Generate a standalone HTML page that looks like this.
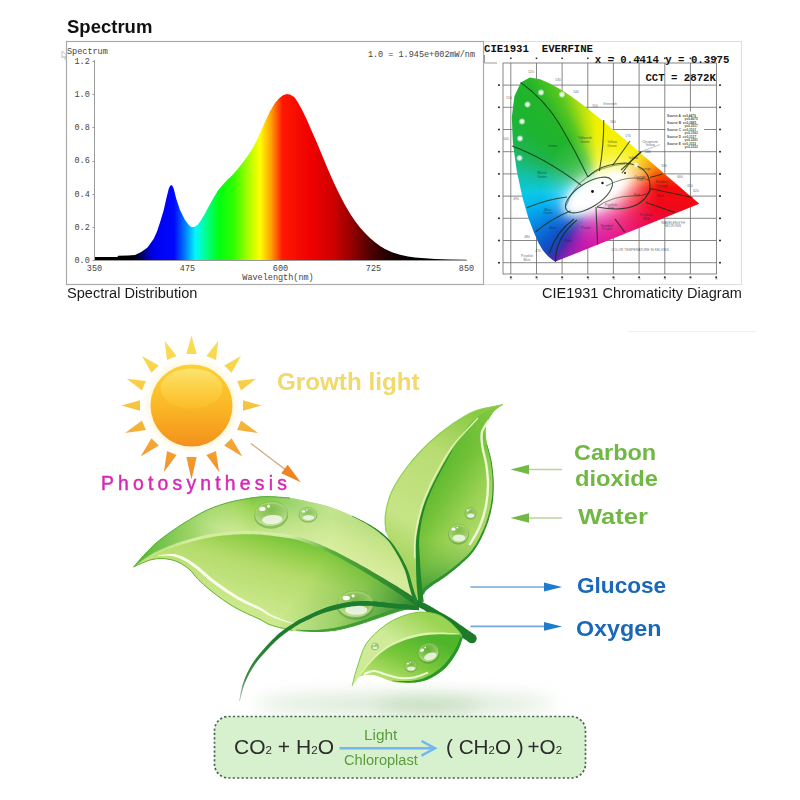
<!DOCTYPE html>
<html><head><meta charset="utf-8"><title>Spectrum</title>
<style>
html,body{margin:0;padding:0;background:#fff;}
body{width:800px;height:800px;position:relative;overflow:hidden;font-family:"Liberation Sans",sans-serif;filter:blur(0.55px);}
svg{position:absolute;left:0;top:0;}
.t{position:absolute;white-space:nowrap;line-height:1;}
text{white-space:pre;}

#cie{position:absolute;left:500px;top:70px;width:210px;height:200px;
clip-path:polygon(55.5px 191.6px,55.3px 191.6px,54.8px 191.6px,53.0px 190.3px,51.0px 188.8px,47.8px 186.1px,42.6px 179.9px,38.9px 173.4px,34.2px 163.2px,28.4px 148.1px,22.4px 127.2px,16.8px 101.1px,12.9px 73.2px,11.8px 47.3px,14.4px 26.2px,20.8px 12.4px,29.9px 7.6px,40.1px 9.3px,50.5px 13.8px,60.3px 19.2px,69.7px 25.2px,79.0px 31.9px,88.2px 39.0px,97.4px 46.4px,106.5px 54.1px,115.7px 61.8px,124.8px 69.6px,133.7px 77.2px,142.3px 84.7px,150.6px 91.8px,158.4px 98.5px,165.5px 104.7px,171.7px 110.0px,181.6px 118.6px,188.2px 124.3px,195.3px 130.3px,199.3px 133.8px);
background:
radial-gradient(circle 95px at 100px 120px, rgba(255,255,255,.4) 0, rgba(255,255,255,.16) 35%, rgba(255,255,255,0) 62%),
conic-gradient(from 0deg at 100px 120px,
#f2f000 0deg,#f6f000 12deg,#f8ee00 40deg,#fad400 52deg,#f89400 66deg,#f84000 78deg,#f40c0c 88deg,#f0081a 104deg,#ee0840 120deg,#ea0c70 146deg,#e40e8c 170deg,#d614a4 186deg,#c018ac 198deg,#8c20b0 207deg,#5028ac 213deg,#2040b8 218deg,#0c58cc 227deg,#0880e0 240deg,#04b4f0 256deg,#0cc8e4 268deg,#14c0a0 282deg,#1eb454 296deg,#1eb432 310deg,#22b42a 326deg,#58c620 337deg,#b4e010 347deg,#eef000 356deg,#f2f000 360deg);
}
</style></head>
<body>
<svg width="800" height="800" viewBox="0 0 800 800">
<defs>
<linearGradient id="spec" gradientUnits="userSpaceOnUse" x1="94" y1="0" x2="467" y2="0">
<stop offset="0" stop-color="#000"/>
<stop offset="0.10" stop-color="#000"/>
<stop offset="0.126" stop-color="#000050"/>
<stop offset="0.143" stop-color="#0000b0"/>
<stop offset="0.162" stop-color="#0000f0"/>
<stop offset="0.215" stop-color="#0008ff"/>
<stop offset="0.245" stop-color="#0080ff"/>
<stop offset="0.272" stop-color="#00f8ff"/>
<stop offset="0.30" stop-color="#00ff90"/>
<stop offset="0.335" stop-color="#00ff10"/>
<stop offset="0.375" stop-color="#30ff00"/>
<stop offset="0.41" stop-color="#a0ff00"/>
<stop offset="0.445" stop-color="#ffff00"/>
<stop offset="0.475" stop-color="#ffa000"/>
<stop offset="0.505" stop-color="#ff1800"/>
<stop offset="0.58" stop-color="#f00000"/>
<stop offset="0.64" stop-color="#d00000"/>
<stop offset="0.69" stop-color="#960000"/>
<stop offset="0.74" stop-color="#500000"/>
<stop offset="0.80" stop-color="#180000"/>
<stop offset="0.85" stop-color="#000"/>
<stop offset="1" stop-color="#000"/>
</linearGradient>
</defs>
<rect x="483.5" y="41.5" width="258" height="243" fill="#fff" stroke="#dedede" stroke-width="1"/>
<rect x="66.5" y="41.5" width="417" height="243" fill="#fff" stroke="#aaaaaa" stroke-width="1.2"/>
<path d="M94.5 260.5 L94.5 257 L117.5 257 L118 255.8 L128 255.4 L135 255 L141.25 251.9 L147.5 247.5 L153.75 238.75 L157 231.5 L160 222.5 L163.75 210 L166.25 198.75 L168.75 188.75 L170 186 L171.25 185 L172.5 186 L173.75 188.75 L176.25 198.75 L180 210 L185 220 L188.5 224.6 L191.25 226.9 L194 227 L197.5 225 L200.5 221 L204.4 214.4 L209 206 L213.75 197.5 L218 190.5 L223 184.4 L227.5 179.5 L232.5 175 L237 169.8 L241.9 163.75 L246.5 157.5 L251.25 150.6 L256 142 L260.6 131.9 L265 122 L270 111.25 L275 103 L279.4 98.1 L283 95.3 L286.9 94 L290.5 94.8 L294.4 97.2 L298 102.5 L301.9 109.4 L306.5 119 L311.25 130 L317 143 L322.5 156.25 L328 169.5 L333.75 182.5 L339.5 194.5 L345 205 L350 213.5 L355 221 L360 227.5 L365 233 L370 238 L375 242.3 L380 246 L385 249 L392 252.3 L400 254.8 L408 256.4 L415 257.4 L425 258.3 L435 259 L450 259.5 L466.5 259.8 L466.5 260.5Z" fill="url(#spec)"/>
<path d="M94.5 60 V260.5 H467" fill="none" stroke="#9a9a9a" stroke-width="1"/>
<path d="M92.5 61.5 H94.5" stroke="#999" stroke-width="1"/>
<path d="M92.5 94.5 H94.5" stroke="#999" stroke-width="1"/>
<path d="M92.5 127.5 H94.5" stroke="#999" stroke-width="1"/>
<path d="M92.5 161.5 H94.5" stroke="#999" stroke-width="1"/>
<path d="M92.5 194.5 H94.5" stroke="#999" stroke-width="1"/>
<path d="M92.5 227.5 H94.5" stroke="#999" stroke-width="1"/>
<path d="M92.5 260.5 H94.5" stroke="#999" stroke-width="1"/>
<g font-family="'Liberation Mono',monospace" font-size="8.5" fill="#444">
<text x="74.5" y="63.8">1.2</text>
<text x="74.5" y="97.0">1.0</text>
<text x="74.5" y="130.2">0.8</text>
<text x="74.5" y="163.4">0.6</text>
<text x="74.5" y="196.6">0.4</text>
<text x="74.5" y="229.8">0.2</text>
<text x="74.5" y="263.0">0.0</text>
<text x="94.5" y="270.5" text-anchor="middle">350</text>
<text x="187.5" y="270.5" text-anchor="middle">475</text>
<text x="280.5" y="270.5" text-anchor="middle">600</text>
<text x="373.5" y="270.5" text-anchor="middle">725</text>
<text x="466.5" y="270.5" text-anchor="middle">850</text>
<text x="67" y="53.5">Spectrum</text>
<text x="475" y="56.5" text-anchor="end">1.0 = 1.945e+002mW/nm</text>
<text x="278" y="279.5" text-anchor="middle">Wavelength(nm)</text>
</g>
<path d="M62 51 L62 58 L64 56.5 L65.5 60 L66.5 59.5 L65 56 L67 55.5 Z" fill="#fff" stroke="#aaa" stroke-width="0.7"/>
</svg>
<div class="t" style="left:66.98px;top:17.96px;font-size:18px;font-family:'Liberation Sans',sans-serif;color:#111;transform-origin:0 0;transform:scaleX(1.0281);font-weight:bold;">Spectrum</div>
<div class="t" style="left:66.84px;top:285.75px;font-size:14px;font-family:'Liberation Sans',sans-serif;color:#1a1a1a;transform-origin:0 0;transform:scaleX(1.0408);">Spectral Distribution</div>
<div class="t" style="left:541.68px;top:285.75px;font-size:14px;font-family:'Liberation Sans',sans-serif;color:#1a1a1a;transform-origin:0 0;transform:scaleX(1.0353);">CIE1931 Chromaticity Diagram</div>
<svg width="800" height="800" viewBox="0 0 800 800">
<g stroke="#707070" stroke-width="0.85" fill="none">
<rect x="503" y="63" width="213.4" height="211"/>
<path d="M510.8 63V274"/>
<path d="M536.5 63V274"/>
<path d="M562.1 63V274"/>
<path d="M587.8 63V274"/>
<path d="M613.4 63V274"/>
<path d="M639.1 63V274"/>
<path d="M664.8 63V274"/>
<path d="M690.4 63V274"/>
<path d="M503 262.7H716.4"/>
<path d="M503 240.5H716.4"/>
<path d="M503 218.3H716.4"/>
<path d="M503 196.1H716.4"/>
<path d="M503 173.9H716.4"/>
<path d="M503 151.7H716.4"/>
<path d="M503 129.5H716.4"/>
<path d="M503 107.3H716.4"/>
<path d="M503 85.1H716.4"/>
</g>
<g fill="#333">
<rect x="498" y="261.9" width="2" height="1.6"/>
<rect x="719" y="261.9" width="2" height="1.6"/>
<rect x="498" y="239.7" width="2" height="1.6"/>
<rect x="719" y="239.7" width="2" height="1.6"/>
<rect x="498" y="217.5" width="2" height="1.6"/>
<rect x="719" y="217.5" width="2" height="1.6"/>
<rect x="498" y="195.3" width="2" height="1.6"/>
<rect x="719" y="195.3" width="2" height="1.6"/>
<rect x="498" y="173.1" width="2" height="1.6"/>
<rect x="719" y="173.1" width="2" height="1.6"/>
<rect x="498" y="150.9" width="2" height="1.6"/>
<rect x="719" y="150.9" width="2" height="1.6"/>
<rect x="498" y="128.7" width="2" height="1.6"/>
<rect x="719" y="128.7" width="2" height="1.6"/>
<rect x="498" y="106.5" width="2" height="1.6"/>
<rect x="719" y="106.5" width="2" height="1.6"/>
<rect x="498" y="84.3" width="2" height="1.6"/>
<rect x="719" y="84.3" width="2" height="1.6"/>
<rect x="509.9" y="276.4" width="1.8" height="1.8"/>
<rect x="510.0" y="57.5" width="1.6" height="1.6"/>
<rect x="535.6" y="276.4" width="1.8" height="1.8"/>
<rect x="535.7" y="57.5" width="1.6" height="1.6"/>
<rect x="561.2" y="276.4" width="1.8" height="1.8"/>
<rect x="561.3" y="57.5" width="1.6" height="1.6"/>
<rect x="586.9" y="276.4" width="1.8" height="1.8"/>
<rect x="587.0" y="57.5" width="1.6" height="1.6"/>
<rect x="612.5" y="276.4" width="1.8" height="1.8"/>
<rect x="612.6" y="57.5" width="1.6" height="1.6"/>
<rect x="638.2" y="276.4" width="1.8" height="1.8"/>
<rect x="638.3" y="57.5" width="1.6" height="1.6"/>
<rect x="663.9" y="276.4" width="1.8" height="1.8"/>
<rect x="664.0" y="57.5" width="1.6" height="1.6"/>
<rect x="689.5" y="276.4" width="1.8" height="1.8"/>
<rect x="689.6" y="57.5" width="1.6" height="1.6"/>
<rect x="715.2" y="276.4" width="1.8" height="1.8"/>
<rect x="715.3" y="57.5" width="1.6" height="1.6"/>
</g>
<path d="M484.5 55V63H497" stroke="#999" stroke-width="1" fill="none"/>
</svg>
<div id="cie"></div>
<svg width="800" height="800" viewBox="0 0 800 800">
<defs><radialGradient id="dot"><stop offset="0" stop-color="#fff"/><stop offset="0.45" stop-color="#fff" stop-opacity=".85"/><stop offset="1" stop-color="#fff" stop-opacity="0"/></radialGradient><filter id="bl6" x="-50%" y="-50%" width="200%" height="200%"><feGaussianBlur stdDeviation="5"/></filter><filter id="bl10" x="-50%" y="-50%" width="200%" height="200%"><feGaussianBlur stdDeviation="9"/></filter><clipPath id="locus"><polygon points="555.5,261.6 555.3,261.6 554.8,261.6 553.0,260.3 551.0,258.8 547.8,256.1 542.6,249.9 538.9,243.4 534.2,233.2 528.4,218.1 522.4,197.2 516.8,171.1 512.9,143.2 511.8,117.3 514.4,96.2 520.8,82.4 529.9,77.6 540.1,79.3 550.5,83.8 560.3,89.2 569.7,95.2 579.0,101.9 588.2,109.0 597.4,116.4 606.5,124.1 615.7,131.8 624.8,139.6 633.7,147.2 642.3,154.7 650.6,161.8 658.4,168.5 665.5,174.7 671.7,180.0 681.6,188.6 688.2,194.3 695.3,200.3 699.3,203.8"/></clipPath></defs>
<g clip-path="url(#locus)"><ellipse cx="603" cy="190" rx="42" ry="21" transform="rotate(-28 603 190)" fill="#fff" fill-opacity=".75" filter="url(#bl10)"/><ellipse cx="596" cy="193" rx="36" ry="15" transform="rotate(-30 596 193)" fill="#fff" filter="url(#bl6)"/></g>
<g stroke="#102c10" stroke-opacity=".78" stroke-width="1.1" fill="none">
<path d="M520.6 82.4Q545 100 560 125T588 177"/>
<path d="M512 146Q545 158 581 185"/>
<path d="M603.7 120Q604 145 599.4 171"/>
<path d="M630 141L612.5 165.5"/>
<path d="M641 152L621 170"/>
<path d="M526.7 207.7Q548 199 567 197"/>
<path d="M535.5 232Q552 218 570.5 211"/>
<path d="M549.5 253Q556 232 574 219"/>
<path d="M555.6 262Q555 238 577 220"/>
<path d="M596 207L597.6 244.5"/>
<path d="M615 219L624.7 232.2"/>
<path d="M650 177.5L662.5 174"/>
<path d="M651 188.7L692.5 197.5"/>
<path d="M646 202.5L675 212.5"/>
<path d="M632 160L641 152"/>
<path d="M622 173L632 160"/>
<ellipse cx="589" cy="195" rx="27" ry="12" transform="rotate(-33 589 195)"/>
<path d="M597 207Q640 215 650 190Q652 166 625 163Q600 164 588 177" />
<path d="M566 206Q580 168 625 164" stroke-opacity=".4"/>
<path d="M597 207Q612 196 632 196T650 188" stroke-opacity=".5"/>
<path d="M606 186Q622 178 633 178T649 180" stroke-opacity=".5"/>
</g>
<circle cx="541" cy="92.5" r="3.6" fill="url(#dot)"/>
<circle cx="562" cy="94.5" r="3.6" fill="url(#dot)"/>
<circle cx="527.5" cy="104.5" r="3.6" fill="url(#dot)"/>
<circle cx="522" cy="121.5" r="3.6" fill="url(#dot)"/>
<circle cx="520" cy="138.5" r="3.6" fill="url(#dot)"/>
<circle cx="519.5" cy="158" r="3.6" fill="url(#dot)"/>
<circle cx="636" cy="165" r="3" fill="url(#dot)"/>
<circle cx="602.5" cy="183" r="1.2" fill="#111"/><circle cx="592.5" cy="191.5" r="1.4" fill="#111"/><circle cx="625" cy="173" r="1" fill="#222"/>
<g font-family="'Liberation Sans',sans-serif" font-size="3.4" fill="#123" fill-opacity=".7" text-anchor="middle">
<text x="553" y="146.5">Green</text>
<text x="585" y="139">Yellowish</text>
<text x="585" y="142.5">Green</text>
<text x="612" y="143">Yellow</text>
<text x="612" y="146.5">Green</text>
<text x="542" y="174">Bluish</text>
<text x="542" y="177.5">Green</text>
<text x="548" y="210.5">Blue</text>
<text x="548" y="214">Green</text>
<text x="553" y="229">Blue</text>
<text x="586" y="229">Purple</text>
<text x="607" y="226.5">Reddish</text>
<text x="607" y="230">Purple</text>
<text x="660" y="197">Red</text>
<text x="611" y="205.5">Purplish</text>
<text x="611" y="209">Pink</text>
<text x="637" y="196">Pink</text>
<text x="646" y="216">Purplish</text>
<text x="646" y="219.5">Red</text>
<text x="640" y="177.5">Orange</text>
<text x="640" y="181">Pink</text>
<text x="662" y="183">Reddish</text>
<text x="662" y="186.5">Orange</text>
<text x="645" y="170">Orange</text>
<text x="633" y="158.5">Yellow</text>
<text x="568" y="241.5">Violet</text>
<text x="610" y="105">Greenish</text>
<text x="650" y="142.5">Chromium</text>
<text x="650" y="146">Yellow</text>
<text x="673" y="223.5">WAVELENGTH</text>
<text x="673" y="227">MICRONS</text>
<text x="527" y="257">Purplish</text>
<text x="527" y="261">Blue</text>
<text x="640" y="250.5">COLOR TEMPERATURE IN KELVINS</text>
<text x="531" y="73">520</text>
<text x="558" y="81">530</text>
<text x="576" y="93">540</text>
<text x="595" y="107">550</text>
<text x="613" y="123">560</text>
<text x="628" y="137">570</text>
<text x="648" y="153">580</text>
<text x="664" y="167">590</text>
<text x="680" y="178">600</text>
<text x="690" y="187">610</text>
<text x="696" y="192">620</text>
<text x="509" y="99">510</text>
<text x="506" y="140">500</text>
<text x="516" y="200">490</text>
<text x="527" y="238">480</text>
<text x="538" y="252">470</text>
</g>
<rect x="665.5" y="111.5" width="38.5" height="39" fill="#fff"/>
<path d="M660 144.5L640 152" stroke="#333" stroke-opacity=".6" stroke-width=".5"/>
<g font-family="'Liberation Sans',sans-serif" font-size="3.2" font-weight="bold" fill="#111" fill-opacity=".8">
<text x="667" y="116.5">Source A  x=0.4476</text>
<text x="684.5" y="120.0">y=0.4075</text>
<text x="667" y="123.6">Source B  x=0.3485</text>
<text x="684.5" y="127.2">y=0.3517</text>
<text x="667" y="130.7">Source C  x=0.3101</text>
<text x="684.5" y="134.2">y=0.3163</text>
<text x="667" y="137.8">Source D  x=0.3127</text>
<text x="684.5" y="141.3">y=0.3291</text>
<text x="667" y="144.9">Source E  x=0.3333</text>
<text x="684.5" y="148.4">y=0.3333</text>
</g>
<g font-family="'Liberation Sans',sans-serif" font-size="3.6" fill="#222" text-anchor="middle">
<text x="510.8" y="280.2" fill-opacity=".55">.0</text>
<text x="536.5" y="280.2" fill-opacity=".55">.1</text>
<text x="562.1" y="280.2" fill-opacity=".55">.2</text>
<text x="587.8" y="280.2" fill-opacity=".55">.3</text>
<text x="613.4" y="280.2" fill-opacity=".55">.4</text>
<text x="639.1" y="280.2" fill-opacity=".55">.5</text>
<text x="664.8" y="280.2" fill-opacity=".55">.6</text>
<text x="690.4" y="280.2" fill-opacity=".55">.7</text>
<text x="716.1" y="280.2" fill-opacity=".55">.8</text>
</g>
<g font-family="'Liberation Mono',monospace" font-size="10.7" font-weight="bold" fill="#111">
<text x="484" y="52.3">CIE1931  EVERFINE</text>
<text x="594.7" y="62.5">x = 0.4414 y = 0.3975</text>
<text x="645.4" y="81">CCT = 2872K</text>
</g>
</svg>
<svg width="800" height="800" viewBox="0 0 800 800">
<defs>
<linearGradient id="rayg" gradientUnits="userSpaceOnUse" x1="0" y1="335" x2="0" y2="480"><stop offset="0" stop-color="#f9e058"/><stop offset=".45" stop-color="#f8c840"/><stop offset="1" stop-color="#f08a28"/></linearGradient>
<linearGradient id="sung" x1="0" y1="0" x2="0" y2="1"><stop offset="0" stop-color="#fbd232"/><stop offset=".5" stop-color="#fbb826"/><stop offset="1" stop-color="#f3901c"/></linearGradient>
<linearGradient id="sunhi" x1="0" y1="0" x2="0" y2="1"><stop offset="0" stop-color="#fde476" stop-opacity=".95"/><stop offset="1" stop-color="#fcd040" stop-opacity=".2"/></linearGradient>
<radialGradient id="sunglow"><stop offset=".78" stop-color="#fff6d8"/><stop offset="1" stop-color="#fff" stop-opacity="0"/></radialGradient>
<filter id="b1" x="-20%" y="-20%" width="140%" height="140%"><feGaussianBlur stdDeviation="0.6"/></filter>
<filter id="b8" filterUnits="userSpaceOnUse" x="150" y="640" width="520" height="140"><feGaussianBlur stdDeviation="9"/></filter>

<linearGradient id="bU" gradientUnits="userSpaceOnUse" x1="262" y1="496" x2="250" y2="536"><stop offset="0" stop-color="#70c238"/><stop offset=".35" stop-color="#9cd454"/><stop offset="1" stop-color="#cae88c"/></linearGradient>
<linearGradient id="bUx" gradientUnits="userSpaceOnUse" x1="134" y1="0" x2="416" y2="0"><stop offset="0" stop-color="#3fae2a" stop-opacity=".9"/><stop offset=".2" stop-color="#55b42c" stop-opacity=".4"/><stop offset=".42" stop-color="#fff" stop-opacity="0"/><stop offset=".7" stop-color="#e6f3b2" stop-opacity=".7"/><stop offset="1" stop-color="#dcecA0" stop-opacity=".6"/></linearGradient>
<linearGradient id="bL" gradientUnits="userSpaceOnUse" x1="305" y1="540" x2="282" y2="620"><stop offset="0" stop-color="#72c338"/><stop offset=".2" stop-color="#94cf4a"/><stop offset=".45" stop-color="#b5db6c"/><stop offset="1" stop-color="#cde98e"/></linearGradient>
<linearGradient id="bLx" gradientUnits="userSpaceOnUse" x1="335" y1="545" x2="412" y2="602"><stop offset="0" stop-color="#3c9e2c" stop-opacity="0"/><stop offset=".5" stop-color="#3ca02c" stop-opacity=".3"/><stop offset="1" stop-color="#1f7f2a" stop-opacity=".85"/></linearGradient>
<linearGradient id="bMid" gradientUnits="userSpaceOnUse" x1="134" y1="0" x2="416" y2="0"><stop offset="0" stop-color="#d4eea0" stop-opacity=".2"/><stop offset=".2" stop-color="#d4eea0" stop-opacity=".95"/><stop offset=".55" stop-color="#d8f0a8" stop-opacity=".9"/><stop offset=".7" stop-color="#5cae38"/><stop offset="1" stop-color="#1c7a2c"/></linearGradient>
<linearGradient id="uL" gradientUnits="userSpaceOnUse" x1="470" y1="410" x2="395" y2="560"><stop offset="0" stop-color="#88ca42"/><stop offset=".3" stop-color="#b8dc72"/><stop offset=".75" stop-color="#c6e486"/><stop offset="1" stop-color="#a4d45e"/></linearGradient>
<linearGradient id="uR" gradientUnits="userSpaceOnUse" x1="436" y1="470" x2="492" y2="505"><stop offset="0" stop-color="#5cb82e"/><stop offset=".35" stop-color="#7cc63c"/><stop offset=".7" stop-color="#a4d65a"/><stop offset="1" stop-color="#b8de6e"/></linearGradient>
<linearGradient id="uRy" gradientUnits="userSpaceOnUse" x1="0" y1="405" x2="0" y2="596"><stop offset="0" stop-color="#8ccc48" stop-opacity=".7"/><stop offset=".3" stop-color="#5cb82c" stop-opacity=".2"/><stop offset=".7" stop-color="#4aae2a" stop-opacity=".1"/><stop offset="1" stop-color="#1f8a2a" stop-opacity=".85"/></linearGradient>
<linearGradient id="sU" gradientUnits="userSpaceOnUse" x1="420" y1="612" x2="400" y2="645"><stop offset="0" stop-color="#9ad452"/><stop offset="1" stop-color="#cfeb98"/></linearGradient>
<linearGradient id="sL" gradientUnits="userSpaceOnUse" x1="420" y1="634" x2="400" y2="684"><stop offset="0" stop-color="#4fb52b"/><stop offset=".55" stop-color="#7cc83c"/><stop offset="1" stop-color="#b2e06a"/></linearGradient>
<radialGradient id="dropg" cx=".5" cy=".35" r=".75"><stop offset="0" stop-color="#9ed25e" stop-opacity=".25"/><stop offset=".6" stop-color="#c6e68c" stop-opacity=".55"/><stop offset="1" stop-color="#eaf7cc" stop-opacity=".95"/></radialGradient>
<linearGradient id="stemg" gradientUnits="userSpaceOnUse" x1="0" y1="640" x2="0" y2="703"><stop offset="0" stop-color="#1f7d2e"/><stop offset=".6" stop-color="#3f8a48"/><stop offset="1" stop-color="#9aa89c" stop-opacity=".6"/></linearGradient>
<filter id="soft" x="-5%" y="-5%" width="110%" height="110%"><feGaussianBlur stdDeviation="0.5"/></filter>
</defs>
<path d="M627 331.5H757" stroke="#eef1f1" stroke-width="1"/>
<circle cx="191.5" cy="405.5" r="52" fill="url(#sunglow)"/>
<g fill="url(#rayg)">
<path d="M196.7 354.0L191.5 335.5L186.3 354.0Z"/>
<path d="M216.0 359.9L218.3 340.8L206.4 355.9Z"/>
<path d="M231.6 372.8L241.0 356.0L224.2 365.4Z"/>
<path d="M241.1 390.6L256.2 378.7L237.1 381.0Z"/>
<path d="M243.0 410.7L261.5 405.5L243.0 400.3Z"/>
<path d="M237.1 430.0L258.0 433.1L241.1 420.4Z"/>
<path d="M224.2 445.6L242.4 456.4L231.6 438.2Z"/>
<path d="M206.4 455.1L219.1 472.0L216.0 451.1Z"/>
<path d="M186.3 457.0L191.5 479.5L196.7 457.0Z"/>
<path d="M167.0 451.1L163.9 472.0L176.6 455.1Z"/>
<path d="M151.4 438.2L140.6 456.4L158.8 445.6Z"/>
<path d="M141.9 420.4L125.0 433.1L145.9 430.0Z"/>
<path d="M140.0 400.3L121.5 405.5L140.0 410.7Z"/>
<path d="M145.9 381.0L126.8 378.7L141.9 390.6Z"/>
<path d="M158.8 365.4L142.0 356.0L151.4 372.8Z"/>
<path d="M176.6 355.9L164.7 340.8L167.0 359.9Z"/>
</g>
<circle cx="191.5" cy="405.5" r="41" fill="url(#sung)"/>
<ellipse cx="191.5" cy="388.5" rx="31" ry="20" fill="url(#sunhi)"/>
<path d="M251 443.5L284.5 469" stroke="#d2a67c" stroke-width="1.3" fill="none"/>
<path d="M300.8 482.2L281.3 473.2L287.6 464.8Z" fill="#f08420"/>
<path d="M562 469.5 H526" stroke="#b6d4a0" stroke-width="1.6"/>
<path d="M510.5 469.5 L529 464.7 L529 474.3 Z" fill="#72b844"/>
<path d="M562 518 H526" stroke="#b6d4a0" stroke-width="1.6"/>
<path d="M510.5 518 L529 513.2 L529 522.8 Z" fill="#72b844"/>
<path d="M470.5 587 H548" stroke="#74a8d6" stroke-width="1.6"/>
<path d="M562 587 L544 582.6 L544 591.4 Z" fill="#1e7ccc"/>
<path d="M470.5 626.4 H548" stroke="#74a8d6" stroke-width="1.6"/>
<path d="M562 626.4 L544 622 L544 630.8 Z" fill="#1e7ccc"/>
<ellipse cx="405" cy="704" rx="150" ry="9" fill="#a8cc9c" fill-opacity=".48" filter="url(#b8)"/>
<ellipse cx="428" cy="706" rx="52" ry="5" fill="#8cba7c" fill-opacity=".5" filter="url(#b8)"/>
<g filter="url(#soft)">
<path d="M503.0 404.6C498.3 405.7 483.4 407.8 475.0 411.0C466.6 414.2 460.0 418.8 452.5 424.0C445.0 429.2 437.5 434.9 430.0 442.0C422.5 449.1 413.8 458.3 407.5 466.5C401.2 474.7 395.7 483.1 392.0 491.0C388.3 498.9 386.5 507.2 385.5 514.0C384.5 520.8 384.4 526.0 386.0 532.0C387.6 538.0 391.7 543.8 395.0 550.0C398.3 556.2 403.2 562.8 406.0 569.0C408.8 575.2 409.9 582.7 411.5 587.5C413.1 592.3 413.9 595.6 415.5 598.0C417.1 600.4 420.1 601.3 421.0 602.0C421.2 601.0 421.8 598.0 422.3 596.0C422.8 594.0 422.6 592.0 424.0 590.0C425.4 588.0 427.5 586.5 431.0 584.0C434.5 581.5 440.3 578.3 445.0 575.0C449.7 571.7 454.3 568.2 459.0 564.0C463.7 559.8 468.8 555.8 473.0 550.0C477.2 544.2 481.0 536.7 484.0 529.5C487.0 522.3 489.5 514.5 491.0 507.0C492.5 499.5 493.0 492.0 493.0 484.5C493.0 477.0 492.1 469.1 491.0 462.0C489.9 454.9 487.3 448.0 486.5 442.0C485.7 436.0 484.9 430.9 486.0 426.0C487.1 421.1 490.2 416.1 493.0 412.5C495.8 408.9 501.3 405.9 503.0 404.6Z" fill="url(#uL)"/>
<path d="M503.0 404.6C498.3 407.0 483.4 411.7 475.0 419.0C466.6 426.3 459.2 438.3 452.5 448.5C445.8 458.7 439.4 470.2 434.5 480.0C429.6 489.8 425.9 497.7 423.0 507.0C420.1 516.3 418.1 527.2 417.2 536.0C416.3 544.8 417.3 552.3 417.6 560.0C417.9 567.7 418.2 575.0 418.8 582.0C419.4 589.0 420.6 598.7 421.0 602.0C421.2 601.0 421.8 598.0 422.3 596.0C422.8 594.0 422.6 592.0 424.0 590.0C425.4 588.0 427.5 586.5 431.0 584.0C434.5 581.5 440.3 578.3 445.0 575.0C449.7 571.7 454.3 568.2 459.0 564.0C463.7 559.8 468.8 555.8 473.0 550.0C477.2 544.2 481.0 536.7 484.0 529.5C487.0 522.3 489.5 514.5 491.0 507.0C492.5 499.5 493.0 492.0 493.0 484.5C493.0 477.0 492.1 469.1 491.0 462.0C489.9 454.9 487.3 448.0 486.5 442.0C485.7 436.0 484.9 430.9 486.0 426.0C487.1 421.1 490.2 416.1 493.0 412.5C495.8 408.9 501.3 405.9 503.0 404.6Z" fill="url(#uR)"/>
<path d="M503.0 404.6C498.3 407.0 483.4 411.7 475.0 419.0C466.6 426.3 459.2 438.3 452.5 448.5C445.8 458.7 439.4 470.2 434.5 480.0C429.6 489.8 425.9 497.7 423.0 507.0C420.1 516.3 418.1 527.2 417.2 536.0C416.3 544.8 417.3 552.3 417.6 560.0C417.9 567.7 418.2 575.0 418.8 582.0C419.4 589.0 420.6 598.7 421.0 602.0C421.2 601.0 421.8 598.0 422.3 596.0C422.8 594.0 422.6 592.0 424.0 590.0C425.4 588.0 427.5 586.5 431.0 584.0C434.5 581.5 440.3 578.3 445.0 575.0C449.7 571.7 454.3 568.2 459.0 564.0C463.7 559.8 468.8 555.8 473.0 550.0C477.2 544.2 481.0 536.7 484.0 529.5C487.0 522.3 489.5 514.5 491.0 507.0C492.5 499.5 493.0 492.0 493.0 484.5C493.0 477.0 492.1 469.1 491.0 462.0C489.9 454.9 487.3 448.0 486.5 442.0C485.7 436.0 484.9 430.9 486.0 426.0C487.1 421.1 490.2 416.1 493.0 412.5C495.8 408.9 501.3 405.9 503.0 404.6Z" fill="url(#uRy)"/>
<path d="M423.9 594.7L424.0 594.3L424.2 593.8L424.5 593.3L424.7 592.7L425.0 592.1L425.3 591.6L425.7 591.0L426.1 590.5L426.6 590.0L427.2 589.5L427.8 588.9L428.5 588.4L429.3 587.8L430.2 587.1L431.2 586.4L432.4 585.5L433.7 584.6L435.2 583.6L436.8 582.5L438.6 581.4L440.4 580.2L442.2 579.0L444.0 577.7L445.8 576.4L447.5 575.2L449.3 573.8L451.0 572.5L452.8 571.1L454.5 569.7L456.3 568.3L458.0 566.8L459.8 565.2L461.5 563.6L463.3 562.0L465.1 560.4L466.9 558.7L468.7 556.9L470.5 555.0L472.2 553.0L473.8 550.9L475.4 548.6L476.9 546.2L478.4 543.7L479.9 541.1L481.3 538.4L482.6 535.6L483.9 532.9L485.0 530.1L486.1 527.4L487.2 524.5L488.2 521.7L489.1 518.8L489.9 515.8L490.7 512.9L491.3 510.0L491.9 507.1L492.4 504.3L492.9 501.5L493.2 498.6L493.4 495.8L493.6 493.0L493.7 490.1L493.8 487.3L493.8 484.5L493.7 481.6L493.6 478.7L493.4 475.8L493.1 472.9L492.8 470.0L492.5 467.2L492.1 464.5L491.7 461.9L491.2 459.3L490.6 456.7L489.9 454.0L489.2 451.5L488.6 449.1L487.9 447.0L487.4 445.3L487.0 443.9L486.6 444.1L486.9 445.4L487.3 447.2L487.9 449.3L488.5 451.7L489.1 454.2L489.7 456.9L490.3 459.5L490.7 462.1L491.1 464.7L491.4 467.4L491.8 470.2L492.1 473.0L492.3 475.9L492.5 478.8L492.6 481.7L492.6 484.5L492.6 487.3L492.5 490.1L492.3 492.9L492.1 495.7L491.8 498.5L491.4 501.3L491.0 504.1L490.5 506.9L489.8 509.7L489.1 512.5L488.3 515.4L487.5 518.3L486.6 521.1L485.6 524.0L484.5 526.7L483.4 529.5L482.2 532.1L480.9 534.8L479.6 537.5L478.2 540.1L476.8 542.7L475.3 545.2L473.7 547.5L472.2 549.7L470.6 551.7L468.9 553.6L467.2 555.4L465.4 557.1L463.6 558.7L461.8 560.3L460.0 561.9L458.2 563.4L456.4 564.9L454.7 566.3L452.9 567.7L451.2 569.1L449.4 570.4L447.7 571.7L445.9 572.9L444.2 574.2L442.4 575.4L440.6 576.6L438.8 577.8L437.0 578.9L435.2 580.1L433.6 581.1L432.0 582.1L430.6 583.1L429.5 583.9L428.4 584.7L427.5 585.4L426.6 586.0L425.9 586.6L425.2 587.2L424.5 587.8L423.9 588.5L423.3 589.2L422.8 590.0L422.3 590.7L422.0 591.4L421.7 592.1L421.5 592.6L421.3 593.0L421.1 593.3Z" fill="#2f902e"/>
<path d="M489.0 420.0C487.8 422.0 483.1 427.7 482.0 432.0C480.9 436.3 481.6 440.7 482.3 446.0C483.0 451.3 485.2 457.7 486.2 464.0C487.1 470.3 488.0 477.0 488.0 484.0C488.0 491.0 487.4 498.8 486.0 506.0C484.6 513.2 482.2 520.5 479.5 527.0C476.8 533.5 471.2 542.0 469.5 545.0" fill="none" stroke="#f4fbe0" stroke-opacity=".92" stroke-width="2.4"/>
<path d="M503.0 404.6C498.3 405.7 483.4 407.8 475.0 411.0C466.6 414.2 460.0 418.8 452.5 424.0C445.0 429.2 437.5 434.9 430.0 442.0C422.5 449.1 413.8 458.3 407.5 466.5C401.2 474.7 395.7 483.1 392.0 491.0C388.3 498.9 386.5 507.2 385.5 514.0C384.5 520.8 385.9 529.0 386.0 532.0" fill="none" stroke="#8fd04e" stroke-width="1.2"/>
<path d="M478.0 418.0C473.7 422.8 459.5 436.8 452.0 447.0C444.5 457.2 438.1 469.5 433.0 479.5C427.9 489.5 424.4 497.6 421.5 507.0C418.6 516.4 416.4 527.5 415.3 536.0C414.2 544.5 414.7 554.3 414.6 558.0" fill="none" stroke="#e4f4b8" stroke-opacity=".9" stroke-width="1.6"/>
<path d="M452.2 449.4L450.9 451.8L449.0 455.0L446.8 458.8L444.3 463.1L441.8 467.6L439.3 472.1L437.0 476.3L435.0 480.2L433.2 483.8L431.5 487.2L429.9 490.6L428.4 493.9L426.9 497.1L425.6 500.4L424.3 503.8L423.1 507.2L422.0 510.8L421.0 514.4L420.0 518.0L419.2 521.7L418.4 525.4L417.7 529.0L417.1 532.5L416.6 535.8L416.2 539.1L416.0 542.3L415.9 545.4L415.9 548.4L415.9 551.4L415.9 554.3L416.0 557.2L416.0 560.1L416.0 562.9L416.0 565.8L416.1 568.6L416.1 571.4L416.2 574.1L416.3 576.8L416.4 579.5L416.5 582.2L416.7 584.9L416.9 587.9L417.2 590.8L417.4 593.7L417.7 596.3L417.9 598.8L418.1 600.8L418.2 602.3L423.8 601.7L423.6 600.2L423.3 598.2L423.0 595.8L422.7 593.1L422.4 590.3L422.0 587.4L421.7 584.5L421.5 581.8L421.3 579.2L421.0 576.5L420.8 573.9L420.6 571.1L420.4 568.4L420.3 565.6L420.1 562.8L420.0 559.9L419.8 557.1L419.6 554.2L419.4 551.3L419.3 548.4L419.1 545.4L419.1 542.4L419.2 539.3L419.4 536.2L419.8 532.8L420.2 529.4L420.8 525.8L421.4 522.2L422.1 518.5L423.0 514.9L423.9 511.3L424.9 507.8L426.0 504.4L427.1 501.0L428.4 497.7L429.7 494.5L431.2 491.1L432.7 487.8L434.3 484.3L436.0 480.8L438.0 476.9L440.2 472.6L442.6 468.0L445.1 463.5L447.5 459.2L449.6 455.3L451.4 452.1L452.8 449.6Z" fill="#23852c"/>
<g transform="translate(458.5 533.5) rotate(0)">
<ellipse cx="0" cy="1.7" rx="10.2" ry="9.5" fill="#2f7d22" fill-opacity=".35"/>
<ellipse cx="0" cy="0" rx="10.0" ry="9.5" fill="url(#dropg)" stroke="#5a9a3a" stroke-opacity=".55" stroke-width=".7"/>
<ellipse cx="0.5" cy="4.3" rx="6.2" ry="3.4" fill="#fff" fill-opacity=".75"/>
<ellipse cx="-5.0" cy="-4.3" rx="2.0" ry="1.6" fill="#fff" fill-opacity=".95"/>
<circle cx="-1.2" cy="-5.9" r="0.9" fill="#fff" fill-opacity=".9"/>
</g>
<g transform="translate(470.5 513) rotate(0)">
<ellipse cx="0" cy="1.0" rx="5.6" ry="5.5" fill="#2f7d22" fill-opacity=".35"/>
<ellipse cx="0" cy="0" rx="5.5" ry="5.5" fill="url(#dropg)" stroke="#5a9a3a" stroke-opacity=".55" stroke-width=".7"/>
<ellipse cx="0.3" cy="2.5" rx="3.4" ry="2.0" fill="#fff" fill-opacity=".75"/>
<ellipse cx="-2.8" cy="-2.5" rx="1.1" ry="0.9" fill="#fff" fill-opacity=".95"/>
<circle cx="-0.7" cy="-3.4" r="0.6" fill="#fff" fill-opacity=".9"/>
</g>
<path d="M133.5 567.0C135.4 564.8 141.4 557.8 145.0 554.0C148.6 550.2 151.7 547.0 155.0 544.0C158.3 541.0 161.7 538.5 165.0 536.0C168.3 533.5 171.7 531.2 175.0 529.0C178.3 526.8 180.0 525.5 185.0 522.5C190.0 519.5 198.3 514.2 205.0 511.0C211.7 507.8 218.3 505.5 225.0 503.5C231.7 501.5 238.3 500.1 245.0 499.0C251.7 497.9 257.5 496.8 265.0 496.6C272.5 496.4 282.5 497.1 290.0 498.0C297.5 498.9 303.3 500.5 310.0 502.0C316.7 503.5 323.3 504.8 330.0 507.0C336.7 509.2 343.3 512.0 350.0 515.0C356.7 518.0 364.0 521.3 370.0 525.0C376.0 528.7 381.7 532.8 386.0 537.0C390.3 541.2 392.7 544.7 396.0 550.0C399.3 555.3 403.5 562.8 406.0 569.0C408.5 575.2 409.6 582.7 411.0 587.5C412.4 592.3 413.3 594.9 414.5 598.0C415.7 601.1 417.4 604.7 418.0 606.0C416.3 606.4 411.2 607.4 408.0 608.2C404.8 609.0 403.8 609.0 398.8 610.6C393.7 612.2 384.6 615.4 377.5 617.8C370.4 620.2 363.3 623.1 356.2 625.2C349.2 627.4 342.1 629.4 335.0 630.5C327.9 631.6 320.8 632.0 313.8 632.0C306.7 632.0 299.6 631.6 292.5 630.5C285.4 629.4 276.7 627.1 271.2 625.2C265.8 623.4 264.0 621.3 260.0 619.4C256.0 617.5 251.7 615.7 247.5 613.8C243.3 611.8 239.2 609.9 235.0 607.5C230.8 605.1 226.7 602.3 222.5 599.4C218.3 596.5 214.2 593.4 210.0 590.0C205.8 586.6 200.8 582.1 197.5 578.8C194.2 575.4 192.9 572.6 190.0 570.0C187.1 567.4 183.3 564.8 180.0 563.0C176.7 561.2 173.3 560.2 170.0 559.5C166.7 558.8 163.3 558.4 160.0 558.5C156.7 558.6 153.3 559.1 150.0 560.0C146.7 560.9 142.8 562.8 140.0 564.0C137.2 565.2 134.6 566.5 133.5 567.0Z" fill="url(#bU)"/>
<path d="M133.5 567.0C135.4 564.8 141.4 557.8 145.0 554.0C148.6 550.2 151.7 547.0 155.0 544.0C158.3 541.0 161.7 538.5 165.0 536.0C168.3 533.5 171.7 531.2 175.0 529.0C178.3 526.8 180.0 525.5 185.0 522.5C190.0 519.5 198.3 514.2 205.0 511.0C211.7 507.8 218.3 505.5 225.0 503.5C231.7 501.5 238.3 500.1 245.0 499.0C251.7 497.9 257.5 496.8 265.0 496.6C272.5 496.4 282.5 497.1 290.0 498.0C297.5 498.9 303.3 500.5 310.0 502.0C316.7 503.5 323.3 504.8 330.0 507.0C336.7 509.2 343.3 512.0 350.0 515.0C356.7 518.0 364.0 521.3 370.0 525.0C376.0 528.7 381.7 532.8 386.0 537.0C390.3 541.2 392.7 544.7 396.0 550.0C399.3 555.3 403.5 562.8 406.0 569.0C408.5 575.2 409.6 582.7 411.0 587.5C412.4 592.3 413.3 594.9 414.5 598.0C415.7 601.1 417.4 604.7 418.0 606.0C416.3 606.4 411.2 607.4 408.0 608.2C404.8 609.0 403.8 609.0 398.8 610.6C393.7 612.2 384.6 615.4 377.5 617.8C370.4 620.2 363.3 623.1 356.2 625.2C349.2 627.4 342.1 629.4 335.0 630.5C327.9 631.6 320.8 632.0 313.8 632.0C306.7 632.0 299.6 631.6 292.5 630.5C285.4 629.4 276.7 627.1 271.2 625.2C265.8 623.4 264.0 621.3 260.0 619.4C256.0 617.5 251.7 615.7 247.5 613.8C243.3 611.8 239.2 609.9 235.0 607.5C230.8 605.1 226.7 602.3 222.5 599.4C218.3 596.5 214.2 593.4 210.0 590.0C205.8 586.6 200.8 582.1 197.5 578.8C194.2 575.4 192.9 572.6 190.0 570.0C187.1 567.4 183.3 564.8 180.0 563.0C176.7 561.2 173.3 560.2 170.0 559.5C166.7 558.8 163.3 558.4 160.0 558.5C156.7 558.6 153.3 559.1 150.0 560.0C146.7 560.9 142.8 562.8 140.0 564.0C137.2 565.2 134.6 566.5 133.5 567.0Z" fill="url(#bUx)"/>
<path d="M133.5 567.0C137.1 564.7 146.4 557.2 155.0 553.0C163.6 548.8 175.0 545.0 185.0 542.0C195.0 539.0 205.0 536.6 215.0 535.0C225.0 533.4 235.8 532.8 245.0 532.6C254.2 532.4 260.8 532.9 270.0 534.0C279.2 535.1 290.0 536.2 300.0 539.0C310.0 541.8 320.0 546.3 330.0 551.0C340.0 555.7 350.0 561.3 360.0 567.0C370.0 572.7 381.7 579.8 390.0 585.0C398.3 590.2 405.5 594.9 410.0 598.0C414.5 601.1 415.8 602.6 417.0 603.5L418.0 606.0C416.3 606.4 411.2 607.4 408.0 608.2C404.8 609.0 403.8 609.0 398.8 610.6C393.7 612.2 384.6 615.4 377.5 617.8C370.4 620.2 363.3 623.1 356.2 625.2C349.2 627.4 342.1 629.4 335.0 630.5C327.9 631.6 320.8 632.0 313.8 632.0C306.7 632.0 299.6 631.6 292.5 630.5C285.4 629.4 276.7 627.1 271.2 625.2C265.8 623.4 264.0 621.3 260.0 619.4C256.0 617.5 251.7 615.7 247.5 613.8C243.3 611.8 239.2 609.9 235.0 607.5C230.8 605.1 226.7 602.3 222.5 599.4C218.3 596.5 214.2 593.4 210.0 590.0C205.8 586.6 200.8 582.1 197.5 578.8C194.2 575.4 192.9 572.6 190.0 570.0C187.1 567.4 183.3 564.8 180.0 563.0C176.7 561.2 173.3 560.2 170.0 559.5C166.7 558.8 163.3 558.4 160.0 558.5C156.7 558.6 153.3 559.1 150.0 560.0C146.7 560.9 142.8 562.8 140.0 564.0C137.2 565.2 134.6 566.5 133.5 567.0Z" fill="url(#bL)"/>
<path d="M133.5 567.0C137.1 564.7 146.4 557.2 155.0 553.0C163.6 548.8 175.0 545.0 185.0 542.0C195.0 539.0 205.0 536.6 215.0 535.0C225.0 533.4 235.8 532.8 245.0 532.6C254.2 532.4 260.8 532.9 270.0 534.0C279.2 535.1 290.0 536.2 300.0 539.0C310.0 541.8 320.0 546.3 330.0 551.0C340.0 555.7 350.0 561.3 360.0 567.0C370.0 572.7 381.7 579.8 390.0 585.0C398.3 590.2 405.5 594.9 410.0 598.0C414.5 601.1 415.8 602.6 417.0 603.5L418.0 606.0C416.3 606.4 411.2 607.4 408.0 608.2C404.8 609.0 403.8 609.0 398.8 610.6C393.7 612.2 384.6 615.4 377.5 617.8C370.4 620.2 363.3 623.1 356.2 625.2C349.2 627.4 342.1 629.4 335.0 630.5C327.9 631.6 320.8 632.0 313.8 632.0C306.7 632.0 299.6 631.6 292.5 630.5C285.4 629.4 276.7 627.1 271.2 625.2C265.8 623.4 264.0 621.3 260.0 619.4C256.0 617.5 251.7 615.7 247.5 613.8C243.3 611.8 239.2 609.9 235.0 607.5C230.8 605.1 226.7 602.3 222.5 599.4C218.3 596.5 214.2 593.4 210.0 590.0C205.8 586.6 200.8 582.1 197.5 578.8C194.2 575.4 192.9 572.6 190.0 570.0C187.1 567.4 183.3 564.8 180.0 563.0C176.7 561.2 173.3 560.2 170.0 559.5C166.7 558.8 163.3 558.4 160.0 558.5C156.7 558.6 153.3 559.1 150.0 560.0C146.7 560.9 142.8 562.8 140.0 564.0C137.2 565.2 134.6 566.5 133.5 567.0Z" fill="url(#bLx)"/>
<path d="M413.7 605.0L412.6 605.2L411.2 605.5L409.4 605.8L407.5 606.1L405.4 606.5L403.2 607.0L400.9 607.5L398.5 608.1L396.1 608.8L393.5 609.6L390.9 610.4L388.1 611.3L385.3 612.3L382.5 613.2L379.7 614.2L376.9 615.1L374.2 616.0L371.5 617.0L368.8 617.9L366.1 618.9L363.5 619.8L360.8 620.7L358.2 621.6L355.5 622.4L352.9 623.2L350.3 623.9L347.7 624.7L345.1 625.4L342.5 626.1L339.9 626.7L337.3 627.2L334.8 627.7L332.2 628.2L329.5 628.6L326.9 628.9L324.2 629.2L321.6 629.5L319.0 629.7L316.4 629.9L314.0 630.0L311.5 630.1L308.9 630.1L306.3 630.1L303.7 630.0L301.3 629.9L299.2 629.8L297.4 629.8L296.0 629.8L296.0 630.2L297.3 630.4L299.1 630.6L301.3 630.9L303.6 631.2L306.2 631.5L308.8 631.7L311.5 631.9L314.0 632.0L316.5 632.0L319.1 632.0L321.7 631.9L324.4 631.7L327.1 631.6L329.8 631.3L332.6 631.0L335.2 630.7L337.9 630.2L340.6 629.7L343.2 629.1L345.9 628.5L348.5 627.8L351.2 627.1L353.8 626.4L356.5 625.6L359.2 624.8L361.9 624.0L364.6 623.1L367.3 622.2L370.0 621.2L372.7 620.3L375.4 619.4L378.1 618.5L380.8 617.6L383.6 616.7L386.4 615.7L389.2 614.8L392.0 613.9L394.6 613.0L397.1 612.2L399.5 611.5L401.7 610.9L403.9 610.3L406.1 609.8L408.2 609.3L410.1 608.9L411.8 608.6L413.2 608.2L414.3 608.0Z" fill="#379a2e" fill-opacity=".9"/>
<path d="M292.5 630.5C289.0 629.6 276.7 627.1 271.2 625.2C265.8 623.4 264.0 621.3 260.0 619.4C256.0 617.5 251.7 615.7 247.5 613.8C243.3 611.8 239.2 609.9 235.0 607.5C230.8 605.1 226.7 602.3 222.5 599.4C218.3 596.5 214.2 593.4 210.0 590.0C205.8 586.6 200.8 582.1 197.5 578.8C194.2 575.4 192.9 572.6 190.0 570.0C187.1 567.4 183.3 564.8 180.0 563.0C176.7 561.2 173.3 560.2 170.0 559.5C166.7 558.8 163.3 558.4 160.0 558.5C156.7 558.6 153.3 559.1 150.0 560.0C146.7 560.9 142.8 562.8 140.0 564.0C137.2 565.2 134.6 566.5 133.5 567.0" fill="none" stroke="#62b434" stroke-width="1"/>
<path d="M158.0 555.7L158.8 555.8L159.9 555.8L161.2 555.8L162.6 555.7L164.1 555.7L165.5 555.7L166.8 555.7L168.0 555.8L169.0 555.8L169.9 555.9L170.7 555.9L171.5 556.0L172.2 556.1L173.0 556.2L173.8 556.4L174.7 556.7L175.7 557.0L176.8 557.4L178.0 557.8L179.2 558.3L180.4 558.8L181.7 559.4L182.9 560.1L184.3 560.8L185.7 561.6L187.1 562.5L188.7 563.5L190.2 564.6L191.8 565.7L193.4 566.9L195.0 568.1L196.5 569.3L198.0 570.5L199.6 571.8L201.1 573.1L202.7 574.5L204.2 575.9L205.8 577.3L207.4 578.7L209.0 580.0L210.6 581.2L212.2 582.5L213.7 583.7L215.3 584.8L216.9 586.0L218.4 587.1L220.0 588.2L221.6 589.3L223.2 590.4L224.7 591.5L226.3 592.5L227.9 593.6L229.5 594.6L231.1 595.6L232.6 596.6L234.2 597.5L235.8 598.5L237.4 599.4L239.0 600.2L240.6 601.1L242.1 601.9L243.7 602.7L245.3 603.5L246.9 604.3L248.5 605.0L250.1 605.7L251.7 606.4L253.3 607.1L254.9 607.7L256.5 608.4L258.0 609.1L259.4 609.8L260.8 610.6L262.2 611.3L263.5 612.2L264.8 613.0L266.2 613.9L267.6 614.7L269.0 615.5L270.6 616.3L272.3 617.0L274.0 617.8L275.9 618.5L277.7 619.1L279.6 619.8L281.4 620.4L283.2 621.0L284.8 621.5L286.5 622.0L288.1 622.4L289.7 622.8L291.3 623.2L292.7 623.5L294.0 623.8L295.1 624.0L296.0 624.1L296.0 623.9L295.2 623.6L294.2 623.3L292.9 622.9L291.5 622.5L289.9 622.1L288.3 621.6L286.7 621.1L285.2 620.5L283.6 619.9L281.8 619.3L280.1 618.6L278.3 617.8L276.4 617.1L274.7 616.3L273.0 615.5L271.4 614.7L269.9 613.9L268.6 613.0L267.3 612.2L266.0 611.3L264.7 610.4L263.4 609.4L262.0 608.6L260.6 607.7L259.0 606.9L257.5 606.1L255.9 605.4L254.4 604.7L252.8 604.0L251.2 603.3L249.7 602.5L248.1 601.7L246.6 601.0L245.0 600.2L243.5 599.3L241.9 598.5L240.4 597.7L238.8 596.8L237.3 595.9L235.8 595.0L234.2 594.0L232.7 593.0L231.2 592.0L229.6 591.0L228.1 589.9L226.5 588.9L225.0 587.8L223.4 586.7L221.9 585.6L220.3 584.5L218.8 583.4L217.2 582.2L215.6 581.1L214.1 579.9L212.5 578.7L211.0 577.5L209.5 576.2L207.9 574.9L206.4 573.5L204.8 572.1L203.2 570.7L201.7 569.4L200.1 568.0L198.5 566.7L196.9 565.5L195.2 564.3L193.6 563.2L192.0 562.0L190.4 561.0L188.8 560.0L187.2 559.0L185.7 558.2L184.3 557.5L182.9 556.8L181.5 556.2L180.1 555.7L178.9 555.3L177.6 554.9L176.4 554.6L175.3 554.3L174.2 554.1L173.3 554.0L172.4 554.0L171.5 554.0L170.7 554.0L169.9 554.1L169.0 554.1L168.0 554.2L166.8 554.3L165.4 554.4L164.0 554.5L162.5 554.7L161.1 554.8L159.8 555.0L158.8 555.1L158.0 555.3Z" fill="#fbfff0" fill-opacity=".95"/>
<path d="M133.6 567.2L135.3 566.2L137.4 564.8L139.9 563.1L142.7 561.2L145.8 559.2L149.0 557.3L152.2 555.5L155.4 553.9L158.8 552.4L162.3 551.0L166.1 549.6L169.9 548.2L173.8 546.9L177.7 545.7L181.6 544.5L185.4 543.4L189.2 542.4L192.9 541.3L196.6 540.4L200.4 539.5L204.1 538.6L207.8 537.9L211.5 537.2L215.2 536.6L219.0 536.0L222.8 535.6L226.6 535.2L230.4 534.9L234.2 534.6L237.9 534.4L241.5 534.3L245.0 534.2L248.3 534.2L251.5 534.2L254.5 534.3L257.4 534.4L260.4 534.6L263.4 534.9L266.5 535.2L269.8 535.6L273.3 536.0L277.0 536.4L280.7 536.9L284.4 537.4L288.3 538.0L292.1 538.7L295.8 539.6L299.6 540.5L303.3 541.7L306.9 543.0L310.6 544.4L314.4 545.9L318.1 547.5L321.8 549.2L325.5 550.9L329.2 552.6L332.9 554.4L336.6 556.3L340.4 558.3L344.1 560.3L347.8 562.4L351.5 564.5L355.2 566.7L359.0 568.8L362.7 571.0L366.6 573.4L370.5 575.8L374.4 578.2L378.3 580.5L381.9 582.9L385.4 585.1L388.7 587.1L391.7 589.1L394.6 590.9L397.4 592.8L400.0 594.5L402.4 596.1L404.6 597.7L406.6 599.1L408.4 600.3L409.9 601.4L411.1 602.3L412.1 603.0L413.0 603.7L413.6 604.3L414.2 604.8L414.7 605.3L415.2 605.7L418.8 601.3L418.4 601.0L417.9 600.6L417.3 600.1L416.5 599.4L415.6 598.7L414.5 597.8L413.2 596.8L411.6 595.7L409.7 594.5L407.7 593.1L405.4 591.7L402.9 590.1L400.2 588.4L397.4 586.6L394.4 584.8L391.3 582.9L388.0 580.9L384.5 578.8L380.7 576.5L376.8 574.2L372.8 571.9L368.9 569.6L364.9 567.3L361.0 565.2L357.3 563.1L353.5 561.0L349.7 558.9L345.9 556.9L342.1 554.9L338.4 553.0L334.6 551.1L330.8 549.4L327.0 547.6L323.2 546.0L319.4 544.3L315.6 542.7L311.9 541.2L308.1 539.9L304.2 538.6L300.4 537.5L296.6 536.5L292.7 535.6L288.8 534.9L284.9 534.3L281.1 533.7L277.3 533.2L273.7 532.8L270.2 532.4L266.8 532.0L263.7 531.7L260.6 531.4L257.6 531.2L254.6 531.1L251.5 531.0L248.3 531.0L245.0 531.0L241.4 531.1L237.8 531.2L234.0 531.4L230.2 531.7L226.3 532.0L222.4 532.4L218.6 532.9L214.8 533.4L211.0 534.1L207.2 534.8L203.4 535.6L199.6 536.5L195.9 537.4L192.1 538.4L188.3 539.4L184.6 540.6L180.8 541.8L176.9 543.1L173.0 544.5L169.0 545.9L165.2 547.4L161.5 548.9L157.9 550.5L154.6 552.1L151.3 553.9L148.1 555.9L145.0 558.0L142.0 560.2L139.3 562.2L136.9 564.1L134.9 565.6L133.4 566.8Z" fill="url(#bMid)"/>
<path d="M351.9 516.2L353.3 516.9L355.2 517.9L357.4 519.0L359.8 520.3L362.4 521.7L365.0 523.1L367.5 524.5L369.7 525.9L371.8 527.3L374.0 528.8L376.1 530.3L378.1 531.8L380.1 533.4L382.0 534.9L383.8 536.5L385.4 538.1L386.9 539.6L388.3 541.1L389.5 542.6L390.6 544.1L391.7 545.7L392.8 547.4L393.9 549.2L395.1 551.1L396.3 553.2L397.6 555.4L398.9 557.8L400.2 560.3L401.4 562.7L402.6 565.2L403.7 567.7L404.7 570.0L405.5 572.3L406.3 574.7L406.9 577.1L407.5 579.5L408.1 581.9L408.6 584.1L409.1 586.3L409.7 588.3L410.2 590.1L410.7 591.7L411.1 593.2L411.6 594.7L412.0 596.0L412.4 597.3L412.8 598.5L413.2 599.7L413.7 600.9L414.2 602.0L414.8 603.1L415.3 604.1L415.7 605.0L416.1 605.8L416.5 606.4L416.7 606.9L420.3 605.1L420.0 604.5L419.6 603.9L419.2 603.1L418.7 602.3L418.2 601.4L417.7 600.4L417.2 599.4L416.8 598.3L416.3 597.2L415.9 596.0L415.4 594.8L415.0 593.5L414.5 592.2L414.0 590.7L413.5 589.1L412.9 587.3L412.4 585.4L411.8 583.3L411.2 581.1L410.5 578.7L409.9 576.3L409.1 573.9L408.3 571.4L407.3 569.0L406.2 566.6L405.0 564.1L403.7 561.6L402.4 559.1L401.0 556.6L399.6 554.3L398.3 552.0L396.9 549.9L395.7 548.0L394.5 546.2L393.3 544.6L392.1 543.0L390.9 541.5L389.6 540.0L388.1 538.5L386.6 536.9L384.8 535.4L382.9 533.8L380.9 532.3L378.9 530.8L376.8 529.3L374.6 527.8L372.4 526.4L370.3 525.1L368.0 523.7L365.4 522.4L362.8 521.0L360.2 519.7L357.7 518.5L355.4 517.4L353.5 516.5L352.1 515.8Z" fill="#23832b"/>
<path d="M133.5 567.0C135.4 564.8 141.4 557.8 145.0 554.0C148.6 550.2 151.7 547.0 155.0 544.0C158.3 541.0 161.7 538.5 165.0 536.0C168.3 533.5 171.7 531.2 175.0 529.0C178.3 526.8 180.0 525.5 185.0 522.5C190.0 519.5 198.3 514.2 205.0 511.0C211.7 507.8 218.3 505.5 225.0 503.5C231.7 501.5 238.3 500.1 245.0 499.0C251.7 497.9 257.5 496.8 265.0 496.6C272.5 496.4 285.8 497.8 290.0 498.0" fill="none" stroke="#55ae30" stroke-width="1"/>
<g transform="translate(271 514) rotate(-4)">
<ellipse cx="0" cy="2.2" rx="16.8" ry="12.5" fill="#2f7d22" fill-opacity=".35"/>
<ellipse cx="0" cy="0" rx="16.5" ry="12.5" fill="url(#dropg)" stroke="#5a9a3a" stroke-opacity=".55" stroke-width=".7"/>
<ellipse cx="0.8" cy="5.6" rx="10.2" ry="4.5" fill="#fff" fill-opacity=".75"/>
<ellipse cx="-8.2" cy="-5.6" rx="3.3" ry="2.1" fill="#fff" fill-opacity=".95"/>
<circle cx="-2.0" cy="-7.8" r="1.5" fill="#fff" fill-opacity=".9"/>
</g>
<g transform="translate(308 514.5) rotate(0)">
<ellipse cx="0" cy="1.3" rx="9.2" ry="7.0" fill="#2f7d22" fill-opacity=".35"/>
<ellipse cx="0" cy="0" rx="9.0" ry="7.0" fill="url(#dropg)" stroke="#5a9a3a" stroke-opacity=".55" stroke-width=".7"/>
<ellipse cx="0.5" cy="3.1" rx="5.6" ry="2.5" fill="#fff" fill-opacity=".75"/>
<ellipse cx="-4.5" cy="-3.1" rx="1.8" ry="1.2" fill="#fff" fill-opacity=".95"/>
<circle cx="-1.1" cy="-4.3" r="0.8" fill="#fff" fill-opacity=".9"/>
</g>
<path d="M419.2 605.7L417.4 605.6L415.0 605.4L412.1 605.1L408.9 604.9L405.5 604.6L402.0 604.3L398.6 604.0L395.2 603.7L391.9 603.4L388.4 603.0L384.8 602.6L381.1 602.2L377.4 601.8L373.8 601.5L370.3 601.2L367.1 601.1L364.0 601.1L361.1 601.1L358.4 601.2L355.7 601.4L353.1 601.6L350.5 602.0L347.9 602.3L345.2 602.7L342.5 603.2L339.8 603.8L337.1 604.4L334.5 605.0L331.8 605.8L329.1 606.6L326.4 607.4L323.7 608.4L320.9 609.5L317.9 610.7L314.9 612.0L312.0 613.4L309.2 614.7L306.5 616.0L304.2 617.2L302.1 618.2L300.5 619.0L299.3 619.6L298.4 620.1L297.6 620.5L296.9 620.9L296.1 621.5L295.2 622.1L294.0 622.9L292.4 623.9L290.7 625.0L288.9 626.2L286.9 627.6L284.9 629.0L282.8 630.5L280.8 632.0L278.8 633.6L276.9 635.3L275.0 637.2L273.0 639.1L271.1 641.0L269.2 643.0L267.3 645.0L265.5 647.0L263.8 648.9L262.2 650.8L260.6 652.7L259.0 654.5L257.5 656.4L256.0 658.3L254.6 660.2L253.2 662.2L251.9 664.3L250.6 666.5L249.4 668.7L248.2 671.0L247.0 673.3L246.0 675.7L244.9 678.0L244.0 680.4L243.2 682.7L242.4 685.1L241.7 687.7L241.1 690.4L240.6 693.0L240.1 695.5L239.8 697.7L239.4 699.5L239.2 700.9L239.8 701.1L240.2 699.7L240.6 697.9L241.2 695.7L241.8 693.3L242.4 690.7L243.2 688.1L244.0 685.6L244.8 683.3L245.8 681.1L246.8 678.8L247.9 676.6L249.0 674.3L250.2 672.1L251.5 669.9L252.8 667.7L254.1 665.7L255.4 663.7L256.8 661.9L258.3 660.0L259.7 658.2L261.3 656.5L262.9 654.7L264.5 652.9L266.2 651.1L267.9 649.2L269.7 647.3L271.6 645.3L273.5 643.4L275.4 641.5L277.4 639.7L279.3 638.0L281.2 636.4L283.0 634.9L285.0 633.4L287.0 632.0L289.0 630.6L290.9 629.4L292.8 628.2L294.5 627.1L296.0 626.1L297.3 625.3L298.2 624.7L298.9 624.2L299.6 623.9L300.2 623.5L301.1 623.1L302.3 622.6L303.9 621.8L305.9 620.8L308.3 619.7L310.9 618.4L313.7 617.1L316.7 615.8L319.6 614.6L322.4 613.4L325.1 612.4L327.7 611.6L330.3 610.8L332.9 610.0L335.5 609.4L338.1 608.7L340.7 608.2L343.4 607.7L346.0 607.3L348.6 606.9L351.1 606.5L353.6 606.2L356.1 606.0L358.6 605.8L361.2 605.7L364.0 605.7L366.9 605.7L370.1 605.8L373.4 606.1L377.0 606.4L380.6 606.8L384.2 607.2L387.9 607.6L391.4 608.0L394.8 608.3L398.2 608.6L401.7 608.9L405.2 609.2L408.6 609.5L411.7 609.7L414.6 609.9L417.0 610.1L418.8 610.3Z" fill="url(#stemg)"/>
<g transform="translate(355.3 604) rotate(0)">
<ellipse cx="0" cy="2.4" rx="18.4" ry="13.3" fill="#2f7d22" fill-opacity=".35"/>
<ellipse cx="0" cy="0" rx="18.0" ry="13.3" fill="url(#dropg)" stroke="#5a9a3a" stroke-opacity=".55" stroke-width=".7"/>
<ellipse cx="0.9" cy="6.0" rx="11.2" ry="4.8" fill="#fff" fill-opacity=".75"/>
<ellipse cx="-9.0" cy="-6.0" rx="3.6" ry="2.3" fill="#fff" fill-opacity=".95"/>
<circle cx="-2.2" cy="-8.2" r="1.6" fill="#fff" fill-opacity=".9"/>
</g>
<path d="M419.2 605.7L417.4 605.6L415.0 605.4L412.1 605.1L408.9 604.9L405.5 604.6L402.0 604.3L398.6 604.0L395.2 603.7L391.9 603.4L388.4 603.0L384.8 602.6L381.1 602.2L377.4 601.8L373.8 601.5L370.3 601.2L367.1 601.1L364.0 601.1L361.1 601.1L358.4 601.2L355.7 601.4L353.1 601.6L350.5 602.0L347.9 602.3L345.2 602.7L342.3 603.3L339.3 604.0L336.1 604.8L333.1 605.7L330.2 606.5L327.6 607.2L325.5 607.9L323.8 608.3L325.0 612.5L326.6 612.0L328.8 611.4L331.4 610.7L334.3 609.9L337.3 609.2L340.3 608.4L343.3 607.8L346.0 607.3L348.6 606.9L351.1 606.5L353.6 606.2L356.1 606.0L358.6 605.8L361.2 605.7L364.0 605.7L366.9 605.7L370.1 605.8L373.4 606.1L377.0 606.4L380.6 606.8L384.2 607.2L387.9 607.6L391.4 608.0L394.8 608.3L398.2 608.6L401.7 608.9L405.2 609.2L408.6 609.5L411.7 609.7L414.6 609.9L417.0 610.1L418.8 610.3Z" fill="#1f7d2e"/>
<path d="M415.7 605.7L416.4 606.1L417.3 606.5L418.4 607.0L419.5 607.6L420.8 608.3L422.0 608.9L423.3 609.6L424.4 610.3L425.5 611.0L426.6 611.8L427.7 612.6L428.9 613.4L430.0 614.3L431.3 615.2L432.6 616.2L434.0 617.2L435.4 618.2L436.8 619.2L438.3 620.2L439.8 621.3L441.3 622.3L442.9 623.4L444.4 624.6L446.0 625.7L447.6 626.9L449.4 628.1L451.2 629.5L453.0 630.8L454.8 632.2L456.6 633.5L458.2 634.7L459.8 635.8L461.3 636.9L462.7 637.9L464.1 638.9L465.5 639.8L466.7 640.6L467.7 641.4L468.6 642.0L469.3 642.5L474.7 634.7L474.0 634.2L473.1 633.6L472.0 632.9L470.8 632.1L469.5 631.2L468.1 630.2L466.7 629.2L465.2 628.2L463.7 627.1L462.0 625.9L460.2 624.7L458.4 623.4L456.5 622.0L454.6 620.7L452.8 619.5L451.0 618.3L449.3 617.2L447.6 616.2L445.9 615.2L444.2 614.3L442.6 613.4L441.0 612.5L439.5 611.7L438.0 610.8L436.6 610.0L435.3 609.2L434.0 608.4L432.7 607.6L431.4 606.9L430.2 606.1L428.9 605.4L427.6 604.7L426.3 604.0L424.9 603.3L423.5 602.7L422.2 602.1L421.0 601.5L419.9 601.0L419.0 600.6L418.3 600.3Z" fill="#1b7a2b"/>
<circle cx="472" cy="638.6" r="4.7" fill="#1b7a2b"/>
<path d="M352.2 685.8C353.0 682.8 354.7 675.0 357.0 668.0C359.3 661.0 361.8 650.7 366.2 643.8C370.7 636.8 377.9 630.8 383.8 626.2C389.6 621.7 395.4 618.9 401.2 616.6C407.1 614.3 412.9 612.7 418.8 612.2C424.6 611.8 431.3 612.5 436.2 614.0C441.2 615.5 444.7 618.1 448.5 621.0C452.3 623.9 456.8 629.0 459.0 631.5C461.2 634.0 461.5 635.2 462.0 636.0C461.2 638.5 460.1 645.4 457.2 650.8C454.4 656.1 450.0 663.4 445.0 668.2C440.0 673.1 433.3 677.1 427.5 679.6C421.7 682.1 415.8 682.7 410.0 683.0C404.2 683.3 398.3 682.7 392.5 681.4C386.7 680.1 380.2 676.1 375.0 675.2C369.8 674.4 364.8 674.2 361.0 676.0C357.2 677.8 353.7 684.1 352.2 685.8Z" fill="url(#sU)"/>
<path d="M352.2 685.8C355.9 681.1 366.7 665.2 374.0 658.0C381.3 650.8 387.4 646.5 396.0 642.5C404.6 638.5 415.0 635.4 425.5 634.0C436.0 632.6 453.4 634.0 459.0 634.0L462.0 636.0C461.2 638.5 460.1 645.4 457.2 650.8C454.4 656.1 450.0 663.4 445.0 668.2C440.0 673.1 433.3 677.1 427.5 679.6C421.7 682.1 415.8 682.7 410.0 683.0C404.2 683.3 398.3 682.7 392.5 681.4C386.7 680.1 380.2 676.1 375.0 675.2C369.8 674.4 364.8 674.2 361.0 676.0C357.2 677.8 353.7 684.1 352.2 685.8Z" fill="url(#sL)"/>
<path d="M460.5 637.1L460.1 638.0L459.6 639.3L459.0 640.7L458.4 642.4L457.7 644.1L456.9 645.9L456.0 647.7L454.9 649.5L453.8 651.4L452.5 653.5L451.1 655.6L449.6 657.8L448.0 660.0L446.4 662.1L444.6 664.1L442.9 665.8L441.1 667.5L439.1 669.2L437.0 670.8L434.9 672.3L432.7 673.7L430.5 675.0L428.3 676.1L426.2 677.1L424.2 678.0L422.2 678.7L420.3 679.3L418.2 679.7L416.2 680.1L414.2 680.4L412.1 680.7L410.0 680.9L407.7 681.1L405.2 681.1L402.6 681.1L400.0 681.0L397.5 680.9L395.3 680.7L393.4 680.7L392.0 680.7L392.0 680.9L393.4 681.2L395.2 681.4L397.4 681.7L399.9 682.0L402.5 682.3L405.1 682.5L407.7 682.7L410.0 682.7L412.2 682.6L414.4 682.5L416.5 682.3L418.7 682.0L420.8 681.6L423.0 681.1L425.1 680.5L427.4 679.7L429.6 678.7L431.9 677.5L434.2 676.2L436.5 674.8L438.8 673.3L441.0 671.6L443.1 669.9L445.1 668.2L447.0 666.2L448.8 664.1L450.6 661.9L452.2 659.7L453.7 657.4L455.2 655.2L456.5 653.1L457.7 651.1L458.7 649.1L459.6 647.1L460.4 645.2L461.0 643.3L461.6 641.6L462.0 640.1L462.4 638.9L462.7 637.9Z" fill="#2a962c"/>
<path d="M364.0 674.0C365.7 673.5 370.3 670.9 374.0 671.0C377.7 671.1 381.7 673.3 386.0 674.5C390.3 675.7 395.3 677.5 400.0 678.0C404.7 678.5 409.3 678.4 414.0 677.5C418.7 676.6 425.7 673.3 428.0 672.5" fill="none" stroke="#f6fce4" stroke-opacity=".95" stroke-width="2"/>
<path d="M352.4 685.9L354.1 683.7L356.4 680.7L359.1 677.1L362.2 673.1L365.3 669.1L368.5 665.1L371.7 661.6L374.6 658.6L377.3 656.1L379.9 653.8L382.5 651.7L385.1 649.9L387.8 648.1L390.5 646.6L393.4 645.0L396.5 643.6L399.8 642.2L403.2 640.8L406.7 639.6L410.4 638.4L414.1 637.4L417.9 636.5L421.8 635.8L425.6 635.2L429.8 634.7L434.4 634.4L439.2 634.3L444.1 634.3L448.7 634.4L452.9 634.5L456.4 634.5L459.0 634.5L459.0 633.5L456.4 633.4L452.9 633.1L448.7 632.9L444.1 632.6L439.2 632.4L434.4 632.4L429.7 632.5L425.4 632.8L421.4 633.4L417.4 634.2L413.5 635.1L409.7 636.1L406.0 637.3L402.3 638.6L398.8 639.9L395.5 641.4L392.4 643.0L389.4 644.6L386.6 646.4L383.9 648.2L381.3 650.2L378.7 652.4L376.1 654.8L373.4 657.4L370.6 660.6L367.5 664.3L364.4 668.4L361.3 672.5L358.5 676.6L355.9 680.3L353.7 683.4L352.1 685.6Z" fill="#e2f4b4" fill-opacity=".95"/>
<path d="M352.2 685.8C353.0 682.8 354.7 675.0 357.0 668.0C359.3 661.0 361.8 650.7 366.2 643.8C370.7 636.8 377.9 630.8 383.8 626.2C389.6 621.7 395.4 618.9 401.2 616.6C407.1 614.3 412.9 612.7 418.8 612.2C424.6 611.8 431.3 612.5 436.2 614.0C441.2 615.5 444.7 618.1 448.5 621.0C452.3 623.9 456.8 629.0 459.0 631.5C461.2 634.0 461.5 635.2 462.0 636.0" fill="none" stroke="#7cc844" stroke-width="1"/>
<g transform="translate(428.4 652.5) rotate(-20)">
<ellipse cx="0" cy="1.7" rx="10.7" ry="9.4" fill="#2f7d22" fill-opacity=".35"/>
<ellipse cx="0" cy="0" rx="10.5" ry="9.4" fill="url(#dropg)" stroke="#5a9a3a" stroke-opacity=".55" stroke-width=".7"/>
<ellipse cx="0.5" cy="4.2" rx="6.5" ry="3.4" fill="#fff" fill-opacity=".75"/>
<ellipse cx="-5.2" cy="-4.2" rx="2.1" ry="1.6" fill="#fff" fill-opacity=".95"/>
<circle cx="-1.3" cy="-5.8" r="0.9" fill="#fff" fill-opacity=".9"/>
</g>
<g transform="translate(410.9 666) rotate(0)">
<ellipse cx="0" cy="1.0" rx="6.2" ry="5.4" fill="#2f7d22" fill-opacity=".35"/>
<ellipse cx="0" cy="0" rx="6.1" ry="5.4" fill="url(#dropg)" stroke="#5a9a3a" stroke-opacity=".55" stroke-width=".7"/>
<ellipse cx="0.3" cy="2.4" rx="3.8" ry="1.9" fill="#fff" fill-opacity=".75"/>
<ellipse cx="-3.0" cy="-2.4" rx="1.2" ry="0.9" fill="#fff" fill-opacity=".95"/>
<circle cx="-0.7" cy="-3.3" r="0.6" fill="#fff" fill-opacity=".9"/>
</g>
<g transform="translate(375 646.4) rotate(0)">
<ellipse cx="0" cy="0.6" rx="3.6" ry="3.3" fill="#2f7d22" fill-opacity=".35"/>
<ellipse cx="0" cy="0" rx="3.5" ry="3.3" fill="url(#dropg)" stroke="#5a9a3a" stroke-opacity=".55" stroke-width=".7"/>
<ellipse cx="0.2" cy="1.5" rx="2.2" ry="1.2" fill="#fff" fill-opacity=".75"/>
<ellipse cx="-1.8" cy="-1.5" rx="0.7" ry="0.6" fill="#fff" fill-opacity=".95"/>
<circle cx="-0.4" cy="-2.0" r="0.6" fill="#fff" fill-opacity=".9"/>
</g>
</g>
<rect x="214.5" y="716.5" width="371" height="61.5" rx="14" ry="14" fill="#d7f1cf" stroke="#48664c" stroke-width="1.7" stroke-dasharray="2.2 2.2"/>
<path d="M339.5 748.3H433" stroke="#74b6ee" stroke-width="2.5"/>
<path d="M421.5 741L435 748.3L421.5 755.6" stroke="#74b6ee" stroke-width="2.5" fill="none" stroke-linejoin="miter"/>
</svg>
<div class="t" style="left:276.51px;top:370.86px;font-size:23.5px;font-family:'Liberation Sans',sans-serif;color:#f1d96a;transform-origin:0 0;transform:scaleX(1.0301);font-weight:bold;">Growth light</div>
<div class="t" style="left:101.31px;top:474.06px;font-size:19.3px;font-family:'Liberation Sans',sans-serif;color:#d628b6;transform-origin:0 0;transform:scaleX(1.0026);letter-spacing:4.2px;-webkit-text-stroke:0.45px #d628b6;">Photosynthesis</div>
<div class="t" style="left:574.44px;top:441.58px;font-size:22px;font-family:'Liberation Sans',sans-serif;color:#70b843;transform-origin:0 0;transform:scaleX(1.0678);font-weight:bold;">Carbon</div>
<div class="t" style="left:574.73px;top:467.58px;font-size:22px;font-family:'Liberation Sans',sans-serif;color:#70b843;transform-origin:0 0;transform:scaleX(1.0763);font-weight:bold;">dioxide</div>
<div class="t" style="left:577.67px;top:506.38px;font-size:22px;font-family:'Liberation Sans',sans-serif;color:#70b843;transform-origin:0 0;transform:scaleX(1.1589);font-weight:bold;">Water</div>
<div class="t" style="left:576.77px;top:575.18px;font-size:22px;font-family:'Liberation Sans',sans-serif;color:#1a68b8;transform-origin:0 0;transform:scaleX(1.0275);font-weight:bold;">Glucose</div>
<div class="t" style="left:575.85px;top:617.88px;font-size:22px;font-family:'Liberation Sans',sans-serif;color:#1a68b8;transform-origin:0 0;transform:scaleX(1.0583);font-weight:bold;">Oxygen</div>
<div class="t" style="left:234.2px;top:736.9px;font-size:20px;color:#2c2c2c;transform-origin:0 0;transform:scaleX(1.0520);">CO<span style="font-size:11px;">2</span> + H<span style="font-size:11px;">2</span>O</div>
<div class="t" style="left:446.2px;top:736.9px;font-size:20px;color:#2c2c2c;transform-origin:0 0;transform:scaleX(1.0360);">( CH<span style="font-size:11px;">2</span>O )<span style="margin-left:3.6px;">+O</span><span style="font-size:11px;">2</span></div>
<div class="t" style="left:364.24px;top:727.85px;font-size:14px;font-family:'Liberation Sans',sans-serif;color:#5c9c3c;transform-origin:0 0;transform:scaleX(1.0989);">Light</div>
<div class="t" style="left:343.77px;top:753.35px;font-size:14px;font-family:'Liberation Sans',sans-serif;color:#5c9c3c;transform-origin:0 0;transform:scaleX(1.0426);">Chloroplast</div>
</body></html>
